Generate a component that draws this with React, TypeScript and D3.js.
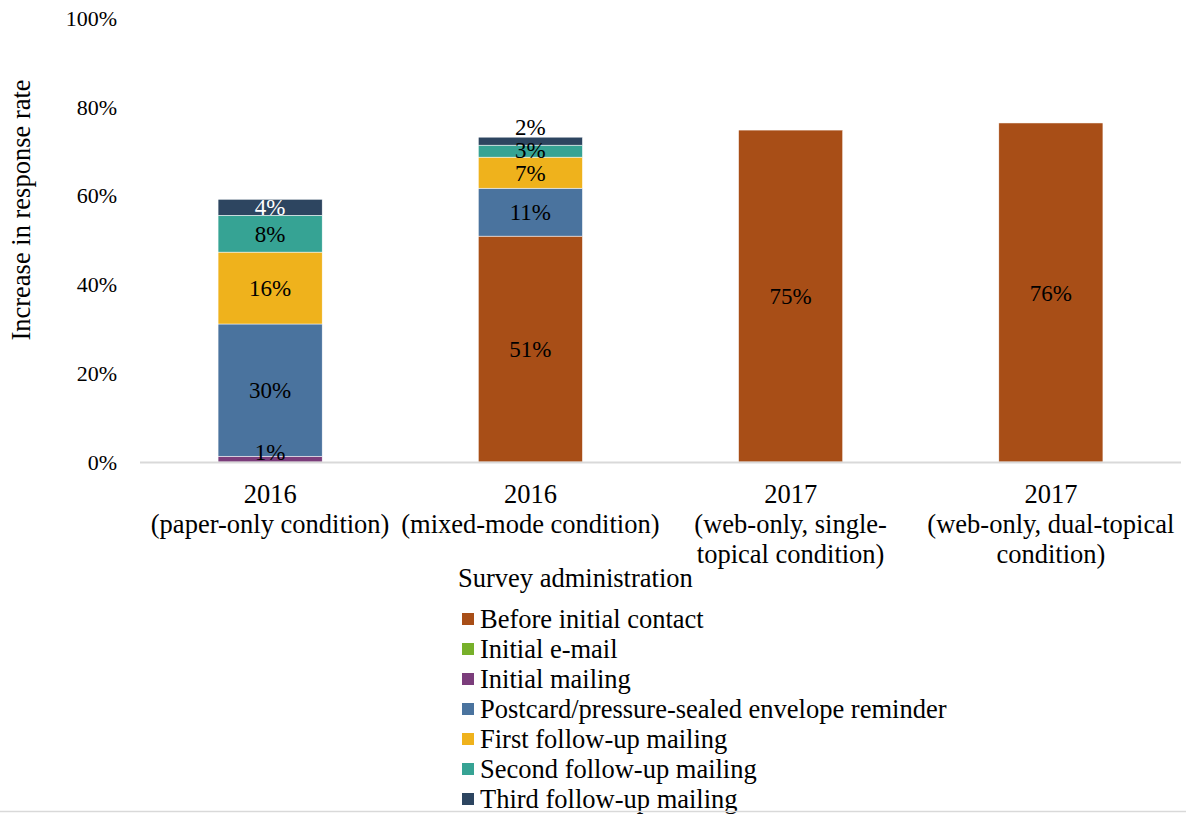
import React from "react";
import * as d3 from "d3";

const categories = [
  ["2016", "(paper-only condition)"],
  ["2016", "(mixed-mode condition)"],
  ["2017", "(web-only, single-", "topical condition)"],
  ["2017", "(web-only, dual-topical", "condition)"],
];

const seriesNames = [
  "Before initial contact",
  "Initial e-mail",
  "Initial mailing",
  "Postcard/pressure-sealed envelope reminder",
  "First follow-up mailing",
  "Second follow-up mailing",
  "Third follow-up mailing",
];

const seriesColors = ["#A84E17", "#77B02A", "#7B3D7B", "#4A739E", "#EFB21C", "#36A394", "#2D4560"];

// values per series, one per category (fractions)
const beforeInitial = [0, 0.509, 0.748, 0.764];
const initialEmail = [0, 0, 0, 0];
const initialMailing = [0.013, 0, 0, 0];
const postcard = [0.298, 0.108, 0, 0];
const firstFollowUp = [0.162, 0.07, 0, 0];
const secondFollowUp = [0.083, 0.027, 0, 0];
const thirdFollowUp = [0.036, 0.018, 0, 0];

const seriesValues = [beforeInitial, initialEmail, initialMailing, postcard, firstFollowUp, secondFollowUp, thirdFollowUp];

const yTicks = [0, 0.2, 0.4, 0.6, 0.8, 1.0];

const W = 1186;
const H = 815;
const FONT = "'Liberation Serif', 'Times New Roman', serif";
const BIG = 26.5;

export default function App() {
  const x = d3.scaleBand<number>().domain(d3.range(categories.length)).range([140, 1181]).paddingInner(0.6).paddingOuter(0.3);
  const y = d3.scaleLinear().domain([0, 1]).range([462, 18.25]);
  const fmt = d3.format(".0%");

  const table = categories.map((_, i) => {
    const row: any = { idx: i };
    seriesNames.forEach((s, k) => (row[s] = seriesValues[k][i]));
    return row;
  });
  const stacked = d3.stack<any>().keys(seriesNames)(table);

  // labels with simple overlap avoidance
  const labels: any[] = [];
  categories.forEach((_, i) => {
    let prev = Infinity;
    stacked.forEach((layer, k) => {
      const d = layer[i];
      const v = d[1] - d[0];
      if (v <= 0) return;
      let cy = (y(d[0]) + y(d[1])) / 2;
      cy = Math.min(cy, y(0) - 10);
      if (prev - cy < 23) cy = prev - 23;
      prev = cy;
      const inside = cy > y(d[1]);
      labels.push({
        x: (x(i) as number) + x.bandwidth() / 2,
        y: cy,
        text: fmt(v),
        color: k === 6 && inside ? "#fff" : "#000",
      });
    });
  });

  return (
    <svg width={W} height={H} style={{ position: "absolute", left: 0, top: 0 }} fontFamily={FONT}>
      <rect width={W} height={H} fill="#fff" />
      {yTicks.map((t) => (
        <text key={t} x={117} y={y(t)} dy="0.35em" textAnchor="end" fontSize={22}>
          {fmt(t)}
        </text>
      ))}
      <text transform={`translate(21,210) rotate(-90)`} textAnchor="middle" fontSize={BIG} dy="0.35em">
        Increase in response rate
      </text>
      {stacked.map((layer, k) => (
        <g key={k} fill={seriesColors[k]}>
          {layer.map((d, i) =>
            d[1] - d[0] > 0 ? (
              <rect
                key={i}
                x={x(i)}
                width={x.bandwidth()}
                y={y(d[1])}
                height={y(d[0]) - y(d[1])}
                stroke="#ffffff"
                strokeWidth={0.5}
              />
            ) : null
          )}
        </g>
      ))}
      <line x1={140} x2={1181} y1={462.5} y2={462.5} stroke="#d9d9d9" strokeWidth={2} />
      {labels.map((l, i) => (
        <text key={i} x={l.x} y={l.y} dy="0.35em" textAnchor="middle" fontSize={23} fill={l.color}>
          {l.text}
        </text>
      ))}
      {categories.map((lines, i) => (
        <text key={i} textAnchor="middle" fontSize={BIG}>
          {lines.map((ln, j) => (
            <tspan key={j} x={(x(i) as number) + x.bandwidth() / 2} y={494 + j * 30} dy="0.35em">
              {ln}
            </tspan>
          ))}
        </text>
      ))}
      <text x={458} y={578} dy="0.35em" fontSize={BIG}>
        Survey administration
      </text>
      {seriesNames.map((s, k) => (
        <g key={s} transform={`translate(462,${619 + k * 30})`}>
          <rect x={0} y={-6} width={12} height={12} fill={seriesColors[k]} />
          <text x={18} y={0} dy="0.35em" fontSize={BIG}>
            {s}
          </text>
        </g>
      ))}
      <line x1={0} x2={W} y1={811.5} y2={811.5} stroke="#d9d9d9" strokeWidth={1.5} />
    </svg>
  );
}
